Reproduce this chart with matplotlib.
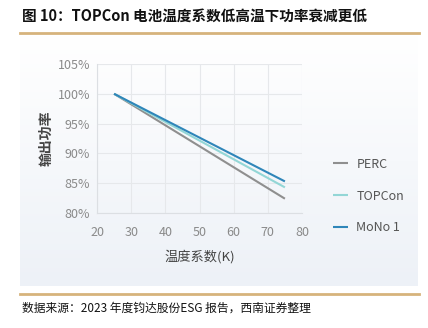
import numpy as np
import matplotlib
matplotlib.use("Agg")
import matplotlib.pyplot as plt
from matplotlib.lines import Line2D

plt.rcParams['font.family'] = ['Noto Sans CJK SC', 'DejaVu Sans']

# Temperature (K) and relative output power (%)
temps = [25, 75]
perc = [100.0, 82.4]
topcon = [100.0, 84.3]
mono1 = [100.0, 85.3]

series_names = ["PERC", "TOPCon", "MoNo 1"]
series_colors = ["#8f8f8f", "#93d6d6", "#2f86b9"]

x_ticks = [20, 30, 40, 50, 60, 70, 80]
y_ticks = [80, 85, 90, 95, 100, 105]

title = "图 10：TOPCon 电池温度系数低高温下功率衰减更低"
source = "数据来源：2023 年度钧达股份ESG 报告，西南证券整理"

W, H = 428, 328
fig = plt.figure(figsize=(W / 100, H / 100), dpi=100)
fig.patch.set_facecolor("white")

# gradient panel behind the chart
bg = fig.add_axes([20 / W, 1 - 286 / H, 398 / W, 250 / H])
grad = np.linspace(0, 1, 256).reshape(-1, 1)
top_c = np.array([1.0, 1.0, 1.0])
bot_c = np.array([0xed, 0xf1, 0xf7]) / 255
img = top_c[None, None, :] * (1 - grad[:, :, None]) + bot_c[None, None, :] * grad[:, :, None]
bg.imshow(img, aspect="auto", extent=[0, 1, 0, 1])
bg.set_axis_off()

# header / footer rules
gold = "#d6b37c"
fig.add_artist(Line2D([20 / W, 419 / W], [1 - 33 / H] * 2, color=gold, lw=2.0))
fig.add_artist(Line2D([20 / W, 419 / W], [1 - 294 / H] * 2, color=gold, lw=2.0))

fig.text(22 / W, 1 - 16 / H, title, fontsize=10.5, fontweight="bold",
         ha="left", va="center", color="#111111")
fig.text(22 / W, 1 - 308 / H, source, fontsize=8.5, style="italic",
         ha="left", va="center", color="#111111")

ax = fig.add_axes([97 / W, 1 - 213 / H, 205 / W, 149 / H])
ax.set_facecolor("none")
for vals, name, col in zip([perc, topcon, mono1], series_names, series_colors):
    ax.plot(temps, vals, color=col, lw=1.5, label=name, solid_capstyle="butt")

ax.set_xlim(20, 80)
ax.set_ylim(80, 105)
ax.set_xticks(x_ticks)
ax.set_yticks(y_ticks)
ax.set_yticklabels([f"{v}%" for v in y_ticks])
ax.grid(True, color="#e6e8eb", lw=0.8)
ax.set_axisbelow(True)
for side in ["top", "right"]:
    ax.spines[side].set_visible(False)
for side in ["left", "bottom"]:
    ax.spines[side].set_color("#dcdfe3")
    ax.spines[side].set_linewidth(0.8)
ax.tick_params(axis="y", length=0, labelsize=9, colors="#8a8a8a", pad=5)
ax.tick_params(axis="x", length=0, labelsize=9, colors="#8a8a8a", pad=9)
ax.set_xlabel("温度系数(K)", fontsize=9.5, color="#444444", labelpad=8)
ax.set_ylabel("输出功率", fontsize=10, fontweight="bold", color="#444444", labelpad=3)

ax.legend(loc="center left", bbox_to_anchor=(322 / W, 1 - 196 / H),
          bbox_transform=fig.transFigure, frameon=False, fontsize=9,
          handlelength=1.15, handletextpad=0.7, labelspacing=1.5,
          labelcolor="#555555")

fig.savefig("out.png", dpi=100)
